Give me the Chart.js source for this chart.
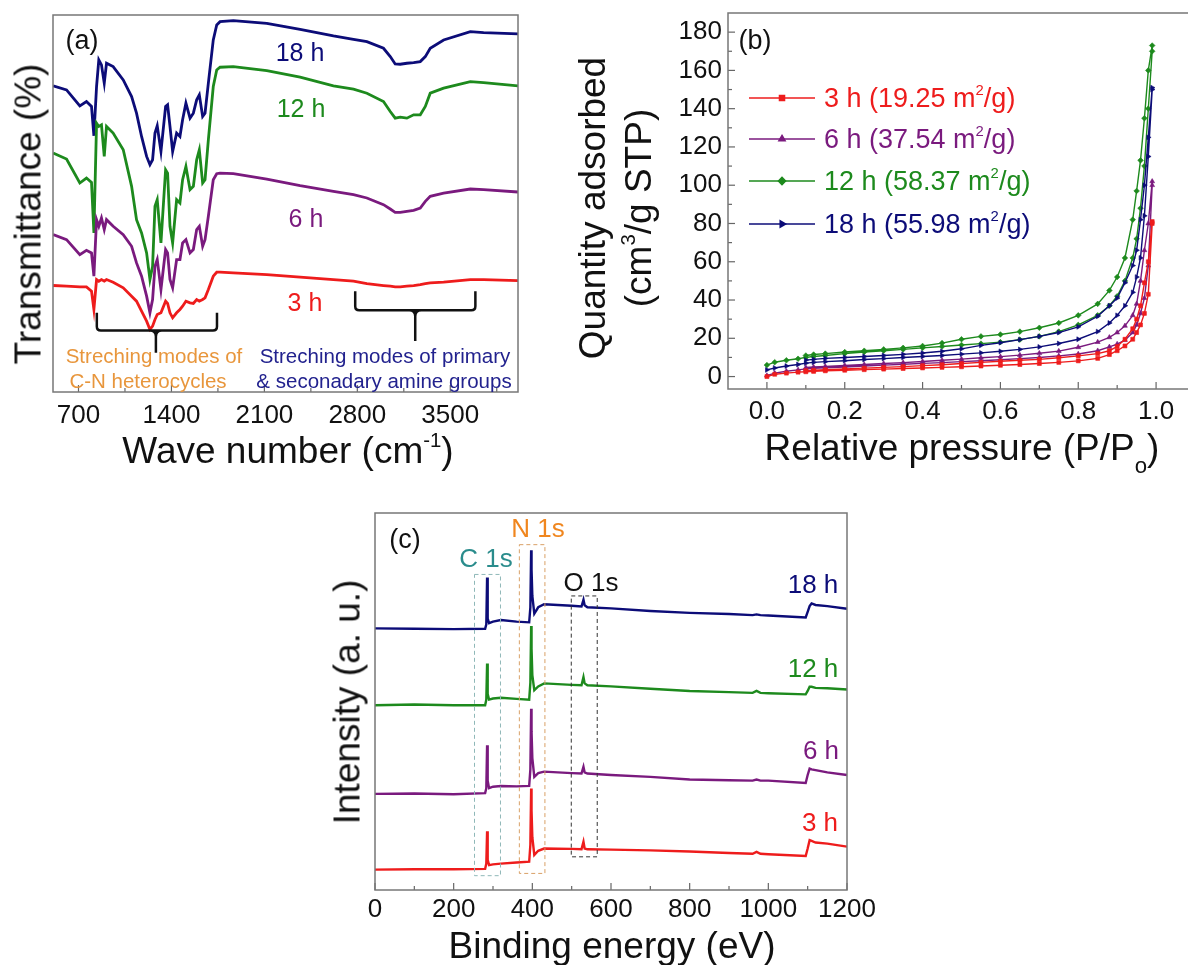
<!DOCTYPE html>
<html lang="en">
<head>
<meta charset="UTF-8">
<title>FTIR, BET and XPS panels</title>
<script src="https://cdn.jsdelivr.net/npm/chart.js"></script>
<style>
  html, body { margin: 0; padding: 0; overflow: hidden; background: #fff; }
  #page { position: relative; width: 1188px; height: 965px; font-family: "Liberation Sans", Arial, sans-serif; color: #111; }
  canvas { position: absolute; }
  .t { position: absolute; transform: translate(-50%, -50%); white-space: nowrap; line-height: 1; }
  .l { position: absolute; transform: translate(0, -50%); white-space: nowrap; line-height: 1; }
  .rot { transform: translate(-50%, -50%) rotate(-90deg); }
  sup { font-size: 0.55em; position: relative; top: -0.8em; vertical-align: baseline; }
  sub { font-size: 0.6em; position: relative; top: 0.6em; vertical-align: baseline; }
  .big { font-size: 37px; }
</style>
</head>
<body>
<div id="page">
  <canvas id="ftir" width="545" height="440" style="left:0;top:0"></canvas>
  <canvas id="bet" width="640" height="470" style="left:560px;top:0"></canvas>
  <canvas id="xps" width="560" height="465" style="left:320px;top:500px"></canvas>

  <!-- (a) -->
  <div class="t" style="left:82px;top:40px;font-size:27px">(a)</div>
  <div class="t" style="left:300px;top:52px;font-size:25px;color:#0c0c78">18 h</div>
  <div class="t" style="left:301px;top:108px;font-size:25px;color:#1d8a1d">12 h</div>
  <div class="t" style="left:306px;top:218px;font-size:25px;color:#7a1a7e">6 h</div>
  <div class="t" style="left:305px;top:302px;font-size:25px;color:#ee1c1c">3 h</div>
  <div class="t" style="left:154px;top:356px;font-size:20.5px;color:#e8963c">Streching modes of</div>
  <div class="t" style="left:148px;top:381px;font-size:20.5px;color:#e8963c">C-N heterocycles</div>
  <div class="t" style="left:385px;top:356px;font-size:20.5px;color:#22228e">Streching modes of primary</div>
  <div class="t" style="left:384px;top:381px;font-size:20.5px;color:#22228e">&amp; seconadary amine groups</div>
  <div class="t rot big" style="left:28px;top:214px">Transmittance (%)</div>
  <div class="t big" style="left:288px;top:450px">Wave number (cm<sup>-1</sup>)</div>

  <!-- (b) -->
  <div class="t" style="left:755px;top:40px;font-size:27px">(b)</div>
  <div class="l" style="left:824px;top:98px;font-size:27px;color:#ee1c1c">3 h (19.25 m<sup>2</sup>/g)</div>
  <div class="l" style="left:824px;top:139px;font-size:27px;color:#7a1a7e">6 h (37.54 m<sup>2</sup>/g)</div>
  <div class="l" style="left:824px;top:181px;font-size:27px;color:#1d8a1d">12 h (58.37 m<sup>2</sup>/g)</div>
  <div class="l" style="left:824px;top:224px;font-size:27px;color:#0c0c78">18 h (55.98 m<sup>2</sup>/g)</div>
  <div class="t rot big" style="left:592px;top:208px">Quantity adsorbed</div>
  <div class="t rot big" style="left:638px;top:208px">(cm<sup>3</sup>/g STP)</div>
  <div class="t big" style="left:962px;top:447px">Relative pressure (P/P<sub>o</sub>)</div>

  <!-- (c) -->
  <div class="t" style="left:405px;top:539px;font-size:27px">(c)</div>
  <div class="t" style="left:486px;top:558px;font-size:26px;color:#2a8c8c">C 1s</div>
  <div class="t" style="left:538px;top:528px;font-size:26px;color:#f0861e">N 1s</div>
  <div class="t" style="left:591px;top:582px;font-size:26px;color:#111">O 1s</div>
  <div class="t" style="left:813px;top:584px;font-size:26px;color:#0c0c78">18 h</div>
  <div class="t" style="left:813px;top:668px;font-size:26px;color:#1d8a1d">12 h</div>
  <div class="t" style="left:821px;top:750px;font-size:26px;color:#7a1a7e">6 h</div>
  <div class="t" style="left:820px;top:822px;font-size:26px;color:#ee1c1c">3 h</div>
  <div class="t rot big" style="left:347px;top:702px">Intensity (a. u.)</div>
  <div class="t big" style="left:612px;top:945px">Binding energy (eV)</div>
</div>

<script>
// ---------- (a) FTIR ----------
const wavenumber = [509,610,710,760,798,816,836,853,873,894,911,961,1037,1100,1137,1175,1213,1238,1258,1276,1293,1321,1356,1371,1389,1409,1439,1464,1484,1509,1540,1565,1590,1610,1635,1653,1678,1715,1741,1766,1866,2118,2369,2620,2771,2872,2997,3048,3085,3123,3173,3224,3274,3312,3349,3450,3651,3751,4010];
const trans18h = [92.2,91.0,86.2,87.5,86.0,77.2,92.0,100.0,98.5,93.0,99.0,98.0,94.0,89.0,84.0,77.0,71.0,68.5,70.0,78.0,80.2,72.5,86.0,86.5,80.0,72.5,78.0,77.0,82.0,87.0,82.5,84.0,88.0,89.5,83.0,84.0,93.0,106.0,110.5,111.5,111.8,111.0,109.2,107.2,106.2,105.5,103.5,101.0,98.8,98.7,99.0,99.2,99.5,101.0,103.5,106.0,108.5,108.2,107.8];
const trans12h = [72.0,70.2,63.0,64.5,63.2,48.0,81.0,80.0,80.5,71.0,80.0,78.0,73.0,62.0,52.0,48.0,42.0,34.0,38.0,56.0,58.0,45.0,67.0,66.0,50.0,45.0,58.0,57.0,64.0,68.0,61.0,62.0,70.0,73.0,63.0,64.0,76.0,92.0,97.0,97.8,98.0,96.8,94.8,92.2,91.2,90.0,87.5,84.5,82.5,82.8,82.5,83.5,83.5,86.0,90.0,91.5,93.5,93.2,92.2];
const trans6h = [47.5,46.0,41.5,42.8,42.0,35.0,52.0,50.0,52.5,49.0,52.0,50.0,47.5,44.0,39.0,35.0,29.0,24.0,28.0,38.0,40.0,31.0,43.0,42.0,34.0,31.5,40.0,40.0,45.0,46.0,42.0,43.0,49.0,50.0,44.0,46.0,53.0,64.0,65.8,66.0,65.8,64.2,62.2,60.5,59.5,58.5,56.5,55.2,54.2,54.2,54.5,54.8,55.5,57.5,59.0,60.0,61.2,61.0,60.3];
const trans3h = [32.2,32.0,31.8,31.8,30.5,25.0,34.0,33.5,34.0,33.5,34.0,33.2,31.5,29.0,27.5,24.5,21.5,19.0,20.0,22.0,23.5,24.0,27.5,26.8,24.0,22.5,24.0,25.0,26.0,27.5,27.0,26.8,28.0,27.5,28.0,28.5,31.0,35.0,36.2,36.2,36.0,35.5,34.7,34.0,33.5,32.8,32.2,32.0,31.8,31.8,32.0,32.2,32.5,32.8,33.0,33.2,34.0,34.0,33.7];
const irTicks = [700,1050,1400,1750,2100,2450,2800,3150,3500,3850];
const irLabels = [700,1400,2100,2800,3500];

// ---------- (b) N2 isotherms ----------
const pAds = [0.0,0.02,0.05,0.08,0.1,0.12,0.15,0.2,0.25,0.3,0.35,0.4,0.45,0.5,0.55,0.6,0.65,0.7,0.75,0.8,0.85,0.88,0.9,0.92,0.94,0.95,0.96,0.97,0.98,0.99];
const pDes = [0.99,0.98,0.97,0.96,0.95,0.94,0.92,0.9,0.88,0.85,0.8,0.75,0.7,0.65,0.6,0.55,0.5,0.45,0.4,0.35,0.3,0.25,0.2,0.15,0.12,0.1];
const q3Ads = [0,1.2,1.8,2.3,2.5,2.7,3,3.3,3.6,3.9,4.2,4.5,4.8,5.1,5.5,5.9,6.3,6.8,7.4,8.2,9.5,11.5,13.5,16,19.5,23,27,33,43,80];
const q3Des = [81,60,49,37,30,25,19.5,15.7,13.5,12,10.8,9.8,9,8.5,8,7.4,6.8,6.2,5.7,5.2,4.8,4.4,4,3.6,3.3,3.1];
const q6Ads = [0.5,1.8,2.8,3.5,4,4.3,4.6,5,5.5,6,6.4,6.9,7.3,7.8,8.3,8.8,9.4,10,10.8,11.8,13.5,15.5,17,19,23,27,33,41,58,100];
const q6Des = [102,80,66,50,38,32,26.5,23,20.5,18,15.3,13.3,12.2,11.2,10.4,9.8,9.1,8.5,7.9,7.3,6.8,6.3,5.8,5.3,5,4.7];
const q12Ads = [6,7.5,8.5,9.3,10,10.5,11,12,12.8,13.5,14.2,15,15.7,16.5,17.2,18,19.3,21,23.5,27,32,37,42,50,62,72,88,110,140,170];
const q12Des = [173,160,135,113,97,82,62,52,45,38,32,28,25.5,23.5,22,21,19.5,17.5,16,15,14.2,13.5,12.8,12,11.5,11];
const q18Ads = [3.5,4.5,5.5,6.3,7,7.4,7.8,8.3,8.9,9.4,10,10.5,11,11.7,12.4,13.2,14.2,15.5,17.3,19.5,23.5,28,32,37,44,52,62,84,115,150];
const q18Des = [151,125,100,82,66,58,49,41,37,31.5,26,23,21,19.3,17.7,16.3,14.5,13.2,12.3,11.6,11,10.5,10,9.5,9,8.6];
const betTicksX = [0,0.1,0.2,0.3,0.4,0.5,0.6,0.7,0.8,0.9,1.0];
const betTicksY = [0,10,20,30,40,50,60,70,80,90,100,110,120,130,140,150,160,170,180];

// ---------- (c) XPS survey ----------
const bindingEnergy = [0,100,200,280,283,285,286,287,290,300,320,360,392,395,397,398,400,405,415,430,500,525,530,533,540,600,700,800,900,960,970,980,1000,1095,1100,1105,1110,1120,1150,1200];
const xps18h = [69.4,69.3,69.2,69.3,70.5,82.9,80,72,70.8,71.2,71.6,71.2,71.0,75,90.1,85,78,73.3,75.0,75.8,75.4,75.2,77.0,75.5,75.0,74.7,74.0,73.5,73.2,72.9,73.1,72.9,72.8,72.3,73.8,75.3,76.0,75.6,75.3,74.6];
const xps12h = [49.0,49.2,49.0,49.0,50.5,60.1,57,52,50.5,50.8,51.0,50.7,50.5,55,70.0,64,57,53.0,54.0,54.8,54.4,54.3,56.5,54.8,54.3,54.0,53.4,52.8,52.5,52.3,52.8,52.3,52.2,51.9,52.8,53.9,53.9,53.6,53.5,53.2];
const xps6h = [25.5,25.6,25.4,25.7,27,38.4,35,29,27.0,27.4,27.6,27.5,27.6,32,48.1,42,35,30.0,31.0,31.4,31.0,30.9,32.7,31.2,30.9,30.5,30.0,29.3,29.1,29.0,29.3,29.0,29.0,28.4,30.5,32.2,32.0,31.8,31.2,30.5];
const xps3h = [5.4,5.5,5.5,5.6,7,15.6,12,8,6.6,6.8,7.0,7.3,7.5,12,26.9,21,14,9.3,10.4,11.0,10.9,10.8,12.8,11.0,10.8,10.7,10.5,10.2,9.8,9.6,10.1,9.6,9.5,9.0,11,13.2,13.0,12.6,12.3,11.5];
const xpsTicks = [0,100,200,300,400,500,600,700,800,900,1000,1100,1200];

const RED = '#ee1c1c', PURPLE = '#7a1a7e', GREEN = '#1d8a1d', NAVY = '#0c0c78';
const FONT = '"Liberation Sans", Arial, sans-serif';

const pairs = (xs, ys) => xs.map((x, i) => ({x: x, y: ys[i]}));

// box round the plot, inner tick marks, dashed boxes, brackets, legend swatches
const panelPlugin = {
  id: 'panel',
  afterDatasetsDraw(chart, args, opts) {
    const {ctx, chartArea: a, scales} = chart;
    const sx = scales.x, sy = scales.y;
    ctx.save();
    (opts.boxes || []).forEach(b => {
      ctx.setLineDash([4, 3]);
      ctx.strokeStyle = b.color;
      ctx.lineWidth = 1;
      const x0 = sx.getPixelForValue(b.x0), x1 = sx.getPixelForValue(b.x1);
      const y0 = sy.getPixelForValue(b.y0), y1 = sy.getPixelForValue(b.y1);
      ctx.strokeRect(x0, y1, x1 - x0, y0 - y1);
    });
    ctx.setLineDash([]);
    (opts.brackets || []).forEach(b => {
      const x0 = sx.getPixelForValue(b.x0), x1 = sx.getPixelForValue(b.x1), xc = sx.getPixelForValue(b.xc);
      const yt = sy.getPixelForValue(b.top), yh = sy.getPixelForValue(b.bar), yp = sy.getPixelForValue(b.tip);
      ctx.strokeStyle = '#111';
      ctx.lineWidth = 2.5;
      ctx.beginPath();
      ctx.moveTo(x0, yt);
      ctx.lineTo(x0, yh - 4);
      ctx.quadraticCurveTo(x0, yh, x0 + 4, yh);
      ctx.lineTo(x1 - 4, yh);
      ctx.quadraticCurveTo(x1, yh, x1, yh - 4);
      ctx.lineTo(x1, yt);
      ctx.moveTo(xc - 6, yh);
      ctx.quadraticCurveTo(xc, yh, xc, yh + 6);
      ctx.lineTo(xc, yp);
      ctx.moveTo(xc + 6, yh);
      ctx.quadraticCurveTo(xc, yh, xc, yh + 6);
      ctx.stroke();
    });
    (opts.legend || []).forEach(it => {
      ctx.strokeStyle = it.color;
      ctx.fillStyle = it.color;
      ctx.lineWidth = 1.6;
      ctx.beginPath();
      ctx.moveTo(it.x0, it.y);
      ctx.lineTo(it.x1, it.y);
      ctx.stroke();
      Chart.helpers.drawPoint(ctx, {pointStyle: it.style, rotation: it.rotation || 0, radius: 3.5, borderWidth: 1}, (it.x0 + it.x1) / 2, it.y);
    });
    ctx.strokeStyle = '#666';
    ctx.lineWidth = 1.2;
    ['x', 'y'].forEach(id => {
      if (!opts.ticks || !opts.ticks[id]) return;
      const s = scales[id];
      s.ticks.forEach(t => {
        const len = t.label !== '' ? 7 : 4;
        const p = s.getPixelForValue(t.value);
        ctx.beginPath();
        if (id === 'x') { ctx.moveTo(p, a.bottom); ctx.lineTo(p, a.bottom - len); }
        else { ctx.moveTo(a.left, p); ctx.lineTo(a.left + len, p); }
        ctx.stroke();
      });
    });
    ctx.strokeStyle = '#777';
    ctx.lineWidth = 1.5;
    ctx.strokeRect(a.left, a.top, a.right - a.left, a.bottom - a.top);
    ctx.restore();
  }
};

function axis(o) {
  return {
    type: 'linear',
    min: o.min, max: o.max,
    afterBuildTicks: s => { s.ticks = (o.ticks || []).map(v => ({value: v})); },
    afterFit: s => {
      if (o.size !== undefined) { if (o.horizontal) s.height = o.size; else s.width = o.size; }
      s.paddingLeft = s.paddingRight = s.paddingTop = s.paddingBottom = 0;
    },
    grid: {display: false, drawTicks: false},
    border: {display: false},
    ticks: {
      display: !!o.ticks,
      padding: o.pad || 6,
      autoSkip: false,
      maxRotation: 0,
      color: '#111',
      font: {family: FONT, size: 26},
      callback: o.label || (v => v)
    }
  };
}

function baseOptions(padding, scales, panel) {
  return {
    responsive: false,
    devicePixelRatio: 1,
    animation: false,
    layout: {padding: padding},
    scales: scales,
    plugins: {legend: {display: false}, tooltip: {enabled: false}, panel: panel}
  };
}

const lineSet = (data, color, width) => ({
  data: data, borderColor: color, backgroundColor: color, borderWidth: width,
  showLine: true, pointRadius: 0, tension: 0
});

// (a)
new Chart(document.getElementById('ftir'), {
  type: 'scatter',
  data: {
    datasets: [
      lineSet(pairs(wavenumber, trans3h), RED, 2.8),
      lineSet(pairs(wavenumber, trans6h), PURPLE, 2.8),
      lineSet(pairs(wavenumber, trans12h), GREEN, 2.8),
      lineSet(pairs(wavenumber, trans18h), NAVY, 2.8)
    ]
  },
  options: baseOptions({left: 0, top: 15, right: 27, bottom: 0}, {
    x: axis({min: 508, max: 4010, ticks: irTicks, horizontal: true, size: 48, pad: 8,
             label: v => irLabels.includes(v) ? String(v) : ''}),
    y: axis({min: 0.2, max: 113.5, size: 53})
  }, {
    ticks: {x: true},
    brackets: [
      {x0: 838, x1: 1743, xc: 1283, top: 24, bar: 18.7, tip: 12},
      {x0: 2784, x1: 3689, xc: 3236, top: 30.5, bar: 24.8, tip: 15.5}
    ]
  }),
  plugins: [panelPlugin]
});

// (b)
const betSet = (p1, q1, p2, q2, color, style, rotation) => ({
  data: pairs(p1, q1).concat(pairs(p2, q2)),
  borderColor: color, backgroundColor: color, borderWidth: 1.4,
  showLine: true, tension: 0,
  pointStyle: style, pointRotation: rotation || 0, pointRadius: 2.8, pointBorderWidth: 0.6
});
new Chart(document.getElementById('bet'), {
  type: 'scatter',
  data: {
    datasets: [
      betSet(pAds, q3Ads, pDes, q3Des, RED, 'rect'),
      betSet(pAds, q6Ads, pDes, q6Des, PURPLE, 'triangle'),
      betSet(pAds, q18Ads, pDes, q18Des, NAVY, 'triangle', 90),
      betSet(pAds, q12Ads, pDes, q12Des, GREEN, 'rectRot')
    ]
  },
  options: baseOptions({left: 0, top: 13, right: 5, bottom: 0}, {
    x: axis({min: -0.1, max: 1.1, ticks: betTicksX, horizontal: true, size: 81, pad: 7,
             label: v => (Math.round(v * 10) % 2 === 0) ? v.toFixed(1) : ''}),
    y: axis({min: -6.5, max: 190, ticks: betTicksY, size: 168, pad: 6,
             label: v => (v % 20 === 0) ? String(v) : ''})
  }, {
    ticks: {x: true, y: true},
    legend: [
      {color: RED, style: 'rect', x0: 189, x1: 255, y: 98},
      {color: PURPLE, style: 'triangle', x0: 189, x1: 255, y: 139},
      {color: GREEN, style: 'rectRot', x0: 189, x1: 255, y: 181},
      {color: NAVY, style: 'triangle', rotation: 90, x0: 189, x1: 255, y: 224}
    ]
  }),
  plugins: [panelPlugin]
});

// (c)
new Chart(document.getElementById('xps'), {
  type: 'scatter',
  data: {
    datasets: [
      lineSet(pairs(bindingEnergy, xps3h), RED, 2.4),
      lineSet(pairs(bindingEnergy, xps6h), PURPLE, 2.4),
      lineSet(pairs(bindingEnergy, xps12h), GREEN, 2.4),
      lineSet(pairs(bindingEnergy, xps18h), NAVY, 2.4)
    ]
  },
  options: baseOptions({left: 0, top: 13, right: 33, bottom: 0}, {
    x: axis({min: 0, max: 1200, ticks: xpsTicks, horizontal: true, size: 75, pad: 4,
             label: v => (v % 200 === 0) ? String(v) : ''}),
    y: axis({min: 0, max: 100, size: 55})
  }, {
    ticks: {x: true},
    boxes: [
      {x0: 253, x1: 319, y0: 3.8, y1: 83.7, color: '#8fb8b8'},
      {x0: 367, x1: 432, y0: 4.4, y1: 91.6, color: '#d9a066'},
      {x0: 499, x1: 565, y0: 8.8, y1: 78, color: '#333'}
    ]
  }),
  plugins: [panelPlugin]
});
</script>
</body>
</html>
